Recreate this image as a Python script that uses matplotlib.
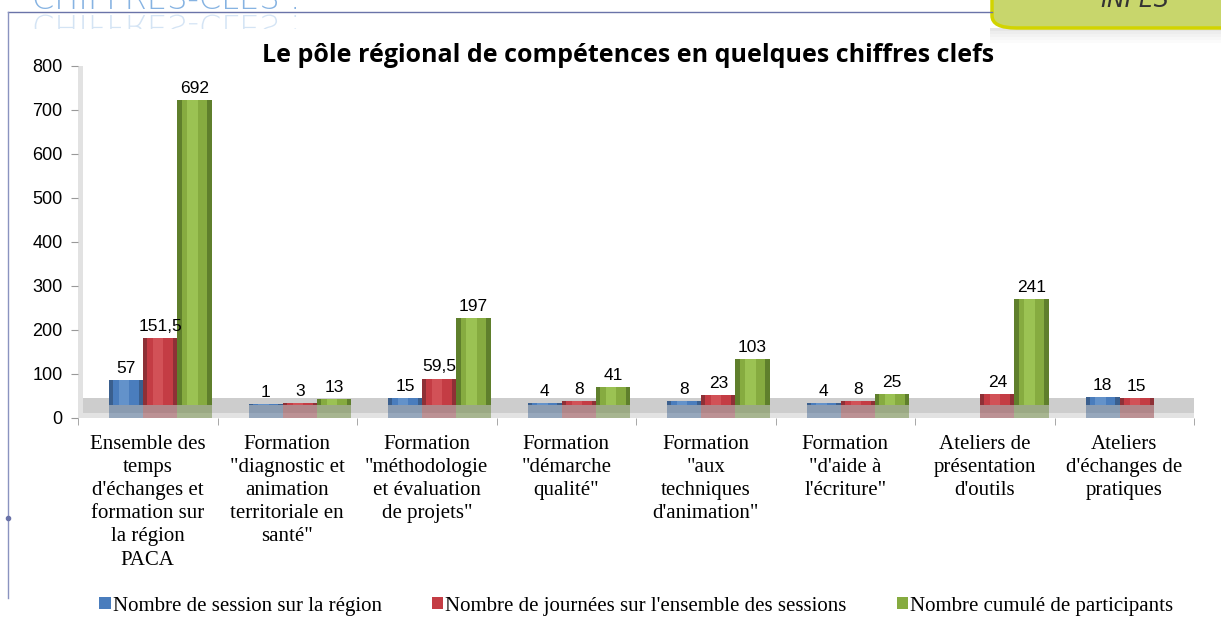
import numpy as np
import matplotlib
matplotlib.use("Agg")
import matplotlib.pyplot as plt
from matplotlib.patches import FancyBboxPatch, Rectangle, PathPatch, Patch
from matplotlib.textpath import TextPath
from matplotlib.font_manager import FontProperties
from matplotlib.transforms import Affine2D, IdentityTransform

# data
categories = [
    "Ensemble des\ntemps\nd'échanges et\nformation sur\nla région\nPACA",
    "Formation\n\"diagnostic et\nanimation\nterritoriale en\nsanté\"",
    "Formation\n\"méthodologie\net évaluation\nde projets\"",
    "Formation\n\"démarche\nqualité\"",
    "Formation\n\"aux\ntechniques\nd'animation\"",
    "Formation\n\"d'aide à\nl'écriture\"",
    "Ateliers de\nprésentation\nd'outils",
    "Ateliers\nd'échanges de\npratiques",
]
sessions = [57, 1, 15, 4, 8, 4, np.nan, 18]
journees = [151.5, 3, 59.5, 8, 23, 8, 24, 15]
participants = [692, 13, 197, 41, 103, 25, 241, np.nan]
series_names = ["Nombre de session sur la région",
                "Nombre de journées sur l'ensemble des sessions",
                "Nombre cumulé de participants"]

# (dark edge, body, highlight) for the cylinder look
colors = [("#3a5f8e", "#4a7dbd", "#6f9bd0"),
          ("#8e3036", "#c43c44", "#d85a60"),
          ("#5f7f2c", "#86ab40", "#a5cc5c")]

W, H, DPI = 1221, 617, 100
fig = plt.figure(figsize=(W / DPI, H / DPI), dpi=DPI)
ax = fig.add_axes([78 / W, 1 - 418 / H, (1194 - 78) / W, (418 - 66) / H])

base = 30   # depth of the 3d floor, drawn under every bar
width = 0.245
shift = 0.09
x = np.arange(len(categories))

# floor and side wall
ax.axhspan(0, 45, color="#cdcdcd", zorder=1, lw=0)
ax.axhspan(0, 12, color="#e2e2e2", zorder=1.1, lw=0)
ax.axvspan(-0.5, -0.465, color="#e2e2e2", zorder=1, lw=0)

for k, vals in enumerate([sessions, journees, participants]):
    vals = np.array(vals, dtype=float)
    pos = x + (k - 1) * width + shift
    dark, body, light = colors[k]
    ok = ~np.isnan(vals)
    ax.bar(pos[ok], [base] * ok.sum(), width, color=dark, alpha=0.45, zorder=2, lw=0)
    ax.bar(pos[ok], vals[ok], width, bottom=base, color=dark, zorder=3, lw=0)
    ax.bar(pos[ok], vals[ok], width * 0.75, bottom=base, color=body, zorder=4, lw=0)
    ax.bar(pos[ok] - width * 0.06, vals[ok], width * 0.3, bottom=base, color=light,
           alpha=0.7, zorder=5, lw=0)
    for p, v in zip(pos[ok], vals[ok]):
        txt = f"{v:g}".replace(".", ",")
        ax.annotate(txt, (p, v + base), xytext=(0, 3), textcoords="offset points",
                    ha="center", va="bottom", fontsize=12.5, family="Liberation Sans",
                    zorder=6)

ax.set_xlim(-0.5, len(categories) - 0.5)
ax.set_ylim(0, 800)
ax.set_yticks(range(0, 801, 100))
ax.tick_params(axis="y", length=5, color="#999999", labelsize=13, pad=6)
for t in ax.get_yticklabels():
    t.set_family("Liberation Sans")
ax.set_xticks(x)
ax.set_xticklabels(categories, family="Liberation Serif", fontsize=15, linespacing=1.3)
ax.tick_params(axis="x", length=0, pad=12)
ax.set_xticks(np.arange(-0.5, len(categories)), minor=True)
ax.tick_params(axis="x", which="minor", length=5, color="#999999")
for s in ax.spines.values():
    s.set_visible(False)

fig.text(628 / W, 1 - 55 / H, "Le pôle régional de compétences en quelques chiffres clefs",
         ha="center", va="center", fontsize=18, weight="bold", family="Open Sans")

handles = [Patch(facecolor=c[1], edgecolor="none") for c in colors]
fig.legend(handles, series_names, loc="center", bbox_to_anchor=(0.521, 1 - 606 / H),
           ncol=3, frameon=False, prop=FontProperties(family="Liberation Serif", size=15),
           handlelength=0.55, handleheight=0.55, handletextpad=0.1, columnspacing=2.4,
           borderpad=0)

# slide decorations around the chart
fig.add_artist(plt.Line2D([8 / W, 992 / W], [1 - 12 / H, 1 - 12 / H],
                          color="#6a73a8", lw=1))
fig.add_artist(plt.Line2D([8 / W, 8 / W], [1 - 12 / H, 1 - 598 / H],
                          color="#8a93c0", lw=1))
fig.add_artist(plt.Line2D([8 / W], [1 - 518 / H], marker="o", ms=3,
                          color="#6a73a8"))

title_font = FontProperties(family="DejaVu Sans", weight="light")
fig.text(32 / W, 1 - 9 / H, "CHIFFRES-CLES :", fontsize=23, color="#86b3e2",
         fontproperties=title_font, va="baseline", ha="left")
tp = TextPath((0, 0), "CHIFFRES-CLES :", size=32, prop=title_font)
refl = PathPatch(tp, transform=Affine2D().scale(1, -1).translate(32, H - 15) + IdentityTransform(),
                 facecolor="#86b3e2", edgecolor="none", alpha=0.35)
fig.add_artist(refl)
refl.set_clip_path(Rectangle((0, H - 29), 400, 15, transform=IdentityTransform()))

for i, a in enumerate([0.10, 0.07, 0.05, 0.03, 0.015]):
    fig.add_artist(Rectangle((990 / W, 1 - (31 + 3 * i) / H), (W - 990) / W, 3 / H,
                             transform=fig.transFigure, color="k", alpha=a, lw=0))
box = FancyBboxPatch((992 / W, 1 - 28 / H), 0.3, 0.2, transform=fig.transFigure,
                     boxstyle="round,pad=0,rounding_size=0.02",
                     facecolor="#c8d66c", edgecolor="#d2d400", lw=2.5)
fig.add_artist(box)
fig.text(1135 / W, 1 - 7 / H, "INPES", fontsize=17, style="italic", color="#333333",
         ha="center", va="baseline")

fig.savefig("out.png", dpi=DPI)
